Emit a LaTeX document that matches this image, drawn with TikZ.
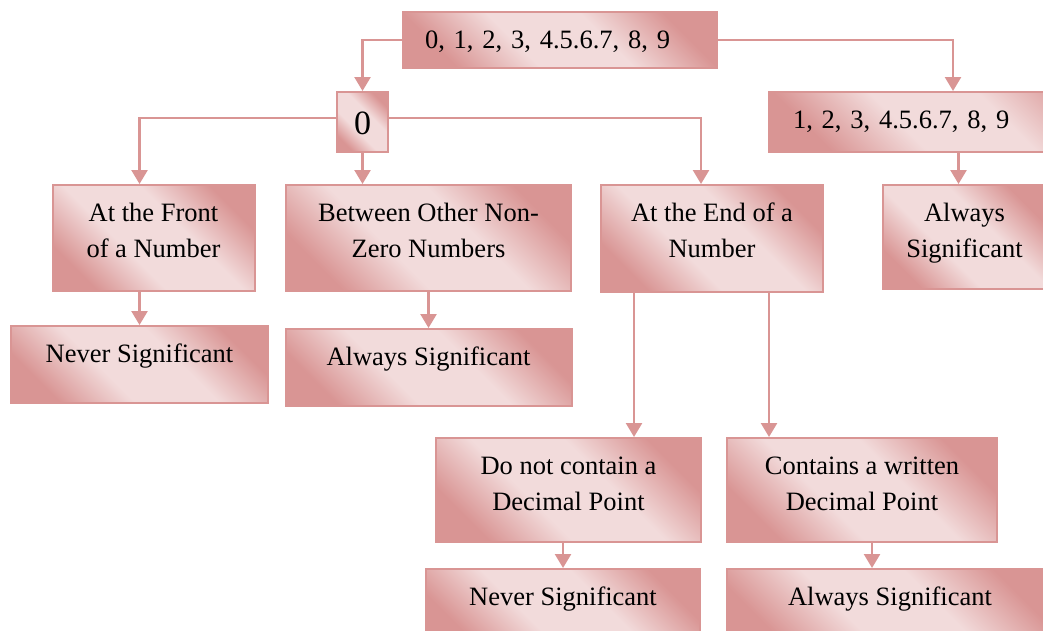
\documentclass[tikz,border=0pt]{standalone}
\usepackage{fontspec}
\setmainfont{Liberation Serif}
\usetikzlibrary{arrows.meta}
\definecolor{boxline}{HTML}{D99594}
\definecolor{boxdark}{HTML}{D99594}
\definecolor{boxlight}{HTML}{F2DBDB}
\pgfdeclarehorizontalshading{boxshade}{100bp}{color(0bp)=(boxdark); color(25bp)=(boxdark);
  color(41bp)=(boxlight); color(59bp)=(boxlight); color(75bp)=(boxdark); color(100bp)=(boxdark)}

\begin{document}
\begin{tikzpicture}[x=1pt, y=-1pt,
  font=\fontsize{26.5}{36}\selectfont,
  sigbox/.style={draw=boxline, line width=2pt, shading=boxshade, shading angle=45,
    anchor=north, inner ysep=0pt, text height=36pt, text depth=#1, align=center},
  twobox/.style={sigbox=#1, text height=72pt},
  link/.style={draw=boxline, line width=2.5pt, -{Triangle[width=16pt,length=14pt]}}]
  \useasboundingbox (0,0) rectangle (1043,630);
  \clip (0,0) rectangle (1043,630);
  % digitos
  \node[sigbox=20pt, text width=270pt, inner xsep=22pt, align=left] (digits) at (560,11) {0, 1, 2, 3, 4.5.6.7, 8, 9};
  \node[sigbox=18pt, text height=42pt, minimum width=51pt, font=\fontsize{34}{40}\selectfont] (zero) at (362.5,91) {0};
  \node[sigbox=24pt, text width=320pt, inner xsep=24pt, align=left] (nonzero) at (953,91) {1, 2, 3, 4.5.6.7, 8, 9};
  % casos do zero
  \node[twobox=34pt, minimum width=202pt] (front) at (153.5,184) {At the Front\\of a Number};
  \node[twobox=34pt, minimum width=285pt] (between) at (428.5,184) {Between Other Non-\\Zero Numbers};
  \node[twobox=35pt, minimum width=222pt] (endnum) at (712,184) {At the End of a\\Number};
  \node[twobox=32pt, minimum width=163pt] (alwR) at (964.5,184) {Always\\Significant};
  \node[sigbox=41pt, minimum width=257pt] (never1) at (139.5,325) {Never Significant};
  \node[sigbox=41pt, minimum width=286pt] (alw1) at (428.5,328) {Always Significant};
  % fim do numero
  \node[twobox=32pt, minimum width=265pt] (donot) at (568.5,437) {Do not contain a\\Decimal Point};
  \node[twobox=32pt, minimum width=270pt] (contains) at (862,437) {Contains a written\\Decimal Point};
  \node[sigbox=41pt, minimum width=274pt] (never2) at (563,568) {Never Significant};
  \node[sigbox=41pt, minimum width=326pt] (alw2) at (890,568) {Always Significant};
  % setas
  \draw[link] (digits.west) -| (zero.north);
  \draw[link] (digits.east) -| (nonzero.north);
  \draw[link] ([yshift=4pt]zero.west) -| ([xshift=-14pt]front.north);
  \draw[link] (zero.south) -- (zero.south |- between.north);
  \draw[link] ([yshift=4pt]zero.east) -| ([xshift=-11pt]endnum.north);
  \draw[link] ([xshift=5.5pt]nonzero.south) -- ([xshift=-6pt]alwR.north);
  \draw[link] ([xshift=-14pt]front.south) -- (never1.north);
  \draw[link] (between.south) -- (alw1.north);
  \draw[link] ([xshift=-78pt]endnum.south) -- ([xshift=65.5pt]donot.north);
  \draw[link] ([xshift=57pt]endnum.south) -- ([xshift=-93pt]contains.north);
  \draw[link] ([xshift=-5.5pt]donot.south) -- (never2.north);
  \draw[link] ([xshift=10pt]contains.south) -- ([xshift=-18pt]alw2.north);
\end{tikzpicture}
\end{document}
